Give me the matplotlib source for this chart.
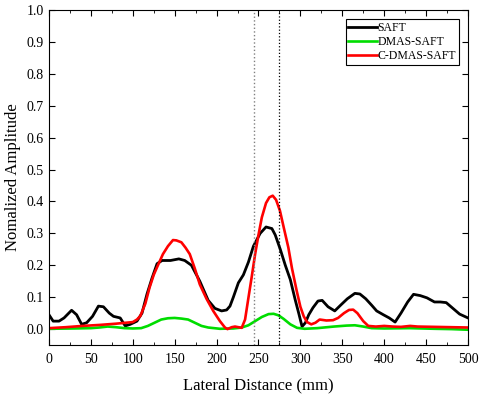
import numpy as np
import matplotlib
matplotlib.use("Agg")
import matplotlib.pyplot as plt
from matplotlib.ticker import MultipleLocator

plt.rcParams['font.family'] = ['Liberation Serif', 'DejaVu Serif']

# SAFT (black)
saft_x = [0, 5, 12, 18, 27, 33, 39, 45, 52, 59, 65, 72, 77, 85, 91, 97, 105, 111, 117, 123,
          129, 135, 145, 155, 162, 170, 180, 190, 198, 206, 212, 216, 220, 226, 232, 238, 244,
          252, 259, 266, 270, 276, 282, 288, 294, 298, 302, 306, 310, 315, 321, 326, 333, 341,
          348, 356, 365, 371, 378, 385, 391, 399, 406, 413, 420, 428, 435, 443, 451, 460, 467,
          474, 482, 490, 500]
saft_y = [0.045, 0.025, 0.025, 0.035, 0.059, 0.045, 0.015, 0.02, 0.04, 0.072, 0.07, 0.05, 0.04,
          0.035, 0.01, 0.015, 0.025, 0.05, 0.11, 0.16, 0.205, 0.215, 0.215, 0.22, 0.215, 0.2,
          0.15, 0.09, 0.065, 0.057, 0.06, 0.072, 0.1, 0.145, 0.17, 0.21, 0.26, 0.3, 0.32, 0.315,
          0.295, 0.25, 0.2, 0.155, 0.09, 0.05, 0.008, 0.02, 0.045, 0.067, 0.088, 0.09, 0.07,
          0.057, 0.075, 0.095, 0.112, 0.11, 0.095, 0.075, 0.057, 0.045, 0.035, 0.022, 0.05,
          0.085, 0.109, 0.105, 0.098, 0.085, 0.085, 0.083, 0.065, 0.047, 0.035]

# DMAS-SAFT (green)
dmas_x = [0, 30, 50, 60, 70, 80, 90, 100, 110, 118, 126, 134, 142, 150, 158, 166, 174, 182,
          190, 204, 220, 230, 238, 246, 254, 262, 268, 274, 280, 288, 296, 305, 320, 340, 355,
          365, 375, 385, 400, 430, 460, 480, 500]
dmas_y = [0.001, 0.002, 0.003, 0.005, 0.008, 0.006, 0.003, 0.002, 0.003, 0.01, 0.02, 0.03,
          0.034, 0.035, 0.033, 0.03, 0.02, 0.01, 0.005, 0.001, 0.002, 0.005, 0.012, 0.025,
          0.038, 0.047, 0.048, 0.043, 0.032, 0.015, 0.004, 0.001, 0.003, 0.008, 0.011, 0.012,
          0.008, 0.003, 0.002, 0.003, 0.001, 0.0, -0.002]

# C-DMAS-SAFT (red)
cdmas_x = [0, 20, 40, 60, 80, 100, 105, 109, 115, 120, 125, 130, 136, 142, 148, 152, 158, 163,
           168, 174, 180, 188, 196, 204, 210, 213, 218, 222, 226, 230, 234, 238, 242, 246, 250,
           254, 259, 263, 267, 271, 275.6, 280, 285.6, 290, 295.6, 300, 304, 308, 313, 318, 323,
           331, 339, 345, 352, 358, 363, 368, 375, 381, 390, 400, 410, 420, 431, 440, 460, 480,
           500]
cdmas_y = [0.003, 0.006, 0.01, 0.013, 0.017, 0.022, 0.03, 0.041, 0.08, 0.13, 0.17, 0.2, 0.235,
           0.26, 0.279, 0.278, 0.272, 0.255, 0.235, 0.19, 0.14, 0.095, 0.057, 0.025, 0.005, 0.0,
           0.006, 0.008, 0.006, 0.004, 0.03, 0.098, 0.165, 0.235, 0.295, 0.35, 0.395, 0.413,
           0.418, 0.405, 0.371, 0.32, 0.256, 0.19, 0.12, 0.07, 0.04, 0.022, 0.015, 0.02, 0.03,
           0.027, 0.028, 0.035, 0.05, 0.06, 0.061, 0.05, 0.025, 0.01, 0.008, 0.01, 0.008, 0.007,
           0.01, 0.008, 0.007, 0.006, 0.005]

vlines = [245, 275]

fig = plt.figure(figsize=(4.8, 3.98), dpi=100)
ax = fig.add_axes([0.102, 0.133, 0.873, 0.842])

ax.plot(saft_x, saft_y, color='black', lw=2.0, label='SAFT')
ax.plot(dmas_x, dmas_y, color='#00dd00', lw=1.9, label='DMAS-SAFT')
ax.plot(cdmas_x, cdmas_y, color='red', lw=1.9, label='C-DMAS-SAFT')

ax.axvline(vlines[0], color='gray', ls=':', lw=1.0)
ax.axvline(vlines[1], color='black', ls=':', lw=0.9)

ax.set_xlim(0, 500)
ax.set_ylim(-0.05, 1.0)
ax.set_xticks(np.arange(0, 501, 50))
ax.xaxis.set_minor_locator(MultipleLocator(25))
ax.set_yticks(np.arange(0, 1.01, 0.1))
ax.tick_params(which='both', direction='in', top=True, right=True, labelsize=10)
ax.tick_params(axis='x', pad=6)
ax.tick_params(which='major', length=4)
ax.tick_params(which='minor', length=2.5)

ax.set_xlabel('Lateral Distance (mm)', fontsize=12, labelpad=8)
ax.set_ylabel('Nomalized Amplitude', fontsize=12)

leg = ax.legend(loc='upper right', fontsize=8.5, frameon=True, fancybox=False,
                edgecolor='black', framealpha=1, borderpad=0.2, handlelength=2.4,
                handletextpad=0.1, labelspacing=0.2, borderaxespad=0.8)
leg.get_frame().set_linewidth(0.8)

fig.savefig('out.png', dpi=100)
